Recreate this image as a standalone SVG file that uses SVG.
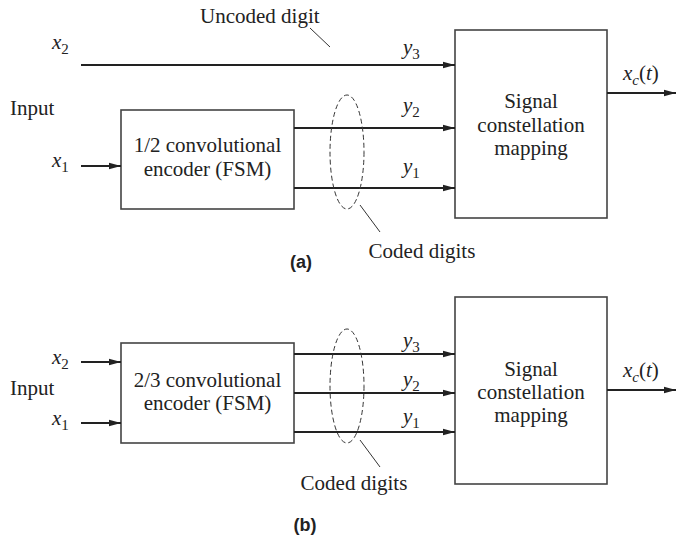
<svg xmlns="http://www.w3.org/2000/svg" width="676" height="538" viewBox="0 0 676 538">
<style>
text{font-family:"Liberation Serif","Times New Roman",serif;font-size:21px;fill:#222}
.it{font-style:italic}
.sub{font-style:normal;font-size:15px}
.subi{font-style:italic;font-size:15px}
.up{font-style:normal}
.lab{font-family:"Liberation Sans",Arial,sans-serif;font-weight:bold;font-size:18px}
.box{fill:none;stroke:#444;stroke-width:1.6}
.wire{fill:none;stroke:#222;stroke-width:2.2}
.ell{fill:none;stroke:#333;stroke-width:1;stroke-dasharray:5,3}
.lead{fill:none;stroke:#333;stroke-width:1}
</style>
<defs>
<marker id="ah" markerWidth="12" markerHeight="8" refX="12" refY="4" orient="auto" markerUnits="userSpaceOnUse">
<path d="M0,0.8 L12,4 L0,7.2 Z" fill="#222"/>
</marker>
</defs>

<!-- Part (a) -->
<g id="a-labels">
<text x="200" y="23">Uncoded digit</text>
<text class="it" x="52" y="49">x<tspan class="sub" dy="5">2</tspan></text>
<text x="10" y="115">Input</text>
<text class="it" x="52" y="167">x<tspan class="sub" dy="5">1</tspan></text>
<text class="it" x="403" y="54">y<tspan class="sub" dy="5">3</tspan></text>
<text class="it" x="403" y="112">y<tspan class="sub" dy="5">2</tspan></text>
<text class="it" x="403" y="173">y<tspan class="sub" dy="5">1</tspan></text>
<text class="it" x="623" y="80">x<tspan class="subi" dy="5">c</tspan><tspan class="up" dy="-5">(</tspan>t<tspan class="up">)</tspan></text>
<text x="422" y="258" text-anchor="middle">Coded digits</text>
<text class="lab" x="301" y="268" text-anchor="middle">(a)</text>
</g>
<g id="a-encoder">
<rect class="box" x="121" y="110" width="173" height="99"/>
<text x="207.5" y="152" text-anchor="middle">1/2 convolutional</text>
<text x="207.5" y="176" text-anchor="middle">encoder (FSM)</text>
</g>
<g id="a-mapper">
<rect class="box" x="455" y="30" width="152" height="188"/>
<text x="531" y="108" text-anchor="middle">Signal</text>
<text x="531" y="132" text-anchor="middle">constellation</text>
<text x="531" y="155" text-anchor="middle">mapping</text>
</g>
<g id="a-connectors">
<line class="wire" x1="81" y1="65" x2="455" y2="65" marker-end="url(#ah)"/>
<line class="wire" x1="81" y1="166" x2="121" y2="166" marker-end="url(#ah)"/>
<line class="wire" x1="294" y1="128" x2="455" y2="128" marker-end="url(#ah)"/>
<line class="wire" x1="294" y1="188" x2="455" y2="188" marker-end="url(#ah)"/>
<line class="wire" x1="607" y1="93" x2="676" y2="93" marker-end="url(#ah)"/>
<ellipse class="ell" cx="347" cy="152" rx="17" ry="57"/>
<line class="lead" x1="360" y1="205" x2="380" y2="232"/>
<line class="lead" x1="310" y1="28" x2="330" y2="47"/>
</g>

<!-- Part (b) -->
<g id="b-labels">
<text class="it" x="52" y="364">x<tspan class="sub" dy="5">2</tspan></text>
<text x="10" y="395">Input</text>
<text class="it" x="52" y="425">x<tspan class="sub" dy="5">1</tspan></text>
<text class="it" x="403" y="347">y<tspan class="sub" dy="5">3</tspan></text>
<text class="it" x="403" y="386">y<tspan class="sub" dy="5">2</tspan></text>
<text class="it" x="403" y="423">y<tspan class="sub" dy="5">1</tspan></text>
<text class="it" x="623" y="377">x<tspan class="subi" dy="5">c</tspan><tspan class="up" dy="-5">(</tspan>t<tspan class="up">)</tspan></text>
<text x="354" y="490" text-anchor="middle">Coded digits</text>
<text class="lab" x="305" y="531" text-anchor="middle">(b)</text>
</g>
<g id="b-encoder">
<rect class="box" x="121" y="343" width="173" height="100"/>
<text x="207.5" y="387" text-anchor="middle">2/3 convolutional</text>
<text x="207.5" y="410" text-anchor="middle">encoder (FSM)</text>
</g>
<g id="b-mapper">
<rect class="box" x="455" y="297" width="152" height="187"/>
<text x="531" y="376" text-anchor="middle">Signal</text>
<text x="531" y="399" text-anchor="middle">constellation</text>
<text x="531" y="422" text-anchor="middle">mapping</text>
</g>
<g id="b-connectors">
<line class="wire" x1="81" y1="362" x2="121" y2="362" marker-end="url(#ah)"/>
<line class="wire" x1="81" y1="423" x2="121" y2="423" marker-end="url(#ah)"/>
<line class="wire" x1="294" y1="354" x2="455" y2="354" marker-end="url(#ah)"/>
<line class="wire" x1="294" y1="393" x2="455" y2="393" marker-end="url(#ah)"/>
<line class="wire" x1="294" y1="432" x2="455" y2="432" marker-end="url(#ah)"/>
<line class="wire" x1="607" y1="390" x2="676" y2="390" marker-end="url(#ah)"/>
<ellipse class="ell" cx="347" cy="386" rx="17" ry="57"/>
<line class="lead" x1="360" y1="440" x2="380" y2="467"/>
</g>
</svg>
